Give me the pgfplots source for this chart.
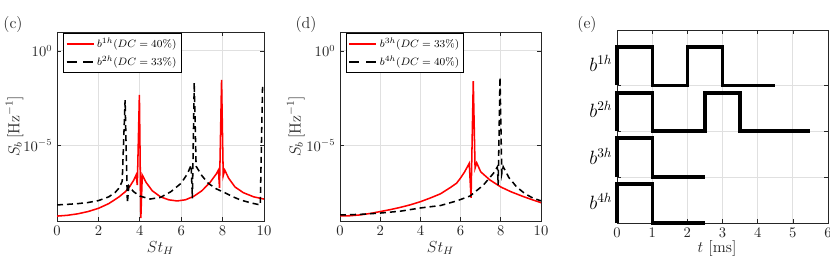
\documentclass[border=0pt]{standalone}
\usepackage{pgfplots}
\pgfplotsset{compat=1.18}
\newlength\px \setlength\px{0.75pt}
\tikzset{
  redline/.style={red, line width=1.15pt},
  blkline/.style={black, line width=1.15pt, dash pattern=on 4.5pt off 3pt},
}
\begin{document}
\begin{tikzpicture}
\useasboundingbox (0,0) rectangle (830\px,261\px);

% ---------------- (c)
\begin{axis}[scale only axis, anchor=south west,
  at={(57\px,40\px)}, width=207\px, height=189\px,
  axis line style={black!85, line width=0.6pt},
  tick style={black!85, line width=0.5pt},
  major tick length=4\px,
  ticklabel style={text=black!85, font=\fontsize{10.5}{12}\selectfont},
  xmajorgrids, ymajorgrids,
  grid style={black!12, line width=0.6pt},
  ymode=log, xmin=0, xmax=10, ymin=1e-9, ymax=10,
  xtick={0,2,4,6,8,10}, ytick={1e-5,1},
  xlabel={$St_H$}, ylabel={$S_b\,[\mathrm{Hz}^{-1}]$},
  xlabel style={at={(axis description cs:0.5,-0.143)}, anchor=center, font=\large, text=black!85},
  ylabel style={at={(axis description cs:-0.205,0.5)}, anchor=center, font=\large, text=black!85},
  legend style={at={(axis description cs:0.03,0.995)}, anchor=north west,
      draw=black, line width=0.8pt, font=\footnotesize, fill=white,
      inner sep=1.5pt, row sep=1pt},
  legend cell align=left]
\addplot[redline, legend image code/.code={\draw[red, line width=1.3pt] (0cm,0cm) -- (0.71cm,0cm);}] coordinates {
(0,1.82e-9) (0.5,2.0e-9) (1,2.4e-9) (1.5,3.16e-9) (2,4.68e-9) (2.5,8.3e-9)
(3,1.9e-8) (3.3,3.55e-8) (3.5,6.3e-8) (3.7,1.41e-7) (3.82,2.7e-7) (3.88,7.9e-8)
(3.98,4.7e-3) (4.05,1.41e-9) (4.12,2.7e-7) (4.3,1.12e-7) (4.6,4.0e-8)
(5.0,1.9e-8) (5.4,1.32e-8) (5.8,1.15e-8) (6.2,1.32e-8) (6.6,2.0e-8)
(7.0,4.0e-8) (7.4,1.12e-7) (7.7,3.16e-7) (7.8,5.0e-7) (7.85,5.6e-8)
(7.95,2.9e-2) (8.03,2.5e-7) (8.1,5.0e-7) (8.3,1.78e-7) (8.6,6.3e-8)
(9.0,3.16e-8) (9.5,1.9e-8) (10,1.45e-8)};
\addlegendentry{$b^{1h}(DC=40\%)$}
\addplot[blkline, legend image code/.code={\draw[black, line width=1.3pt, dash pattern=on 7.5pt off 5pt] (0cm,0cm) -- (0.71cm,0cm);}] coordinates {
(0,7.1e-9) (0.5,7.6e-9) (1,8.3e-9) (1.5,9.5e-9) (2,1.2e-8) (2.5,1.9e-8)
(2.8,3.16e-8) (3.0,5.6e-8) (3.15,1.26e-7) (3.29,2.5e-3) (3.4,8.9e-9)
(3.47,7.1e-8) (3.7,3.55e-8) (4.0,2.1e-8) (4.5,1.45e-8) (5.0,1.78e-8)
(5.5,3.55e-8) (6.0,1.0e-7) (6.3,3.16e-7) (6.48,9.1e-7) (6.54,1.58e-8)
(6.63,2.1e-2) (6.72,7.9e-7) (7.0,2.5e-7) (7.3,1.0e-7) (7.7,5.0e-8)
(8.1,3.16e-8) (8.5,1.9e-8) (8.9,1.26e-8) (9.4,8.9e-9) (9.82,7.1e-9)
(9.93,1.26e-2)};
\addlegendentry{$b^{2h}(DC=33\%)$}
\end{axis}

% ---------------- (d)
\begin{axis}[scale only axis, anchor=south west,
  at={(340\px,40\px)}, width=201\px, height=189\px,
  axis line style={black!85, line width=0.6pt},
  tick style={black!85, line width=0.5pt},
  major tick length=4\px,
  ticklabel style={text=black!85, font=\fontsize{10.5}{12}\selectfont},
  xmajorgrids, ymajorgrids,
  grid style={black!12, line width=0.6pt},
  ymode=log, xmin=0, xmax=10, ymin=1e-9, ymax=10,
  xtick={0,2,4,6,8,10}, ytick={1e-5,1},
  xlabel={$St_H$}, ylabel={$S_b\,[\mathrm{Hz}^{-1}]$},
  xlabel style={at={(axis description cs:0.5,-0.143)}, anchor=center, font=\large, text=black!85},
  ylabel style={at={(axis description cs:-0.22,0.5)}, anchor=center, font=\large, text=black!85},
  legend style={at={(axis description cs:0.03,0.995)}, anchor=north west,
      draw=black, line width=0.8pt, font=\footnotesize, fill=white,
      inner sep=1.5pt, row sep=1pt},
  legend cell align=left]
\addplot[redline, legend image code/.code={\draw[red, line width=1.3pt] (0cm,0cm) -- (0.71cm,0cm);}] coordinates {
(0,1.86e-9) (0.5,1.9e-9) (1,2.1e-9) (1.5,2.5e-9) (2,3.16e-9) (2.5,4.0e-9)
(3,5.25e-9) (3.5,7.2e-9) (4,1.05e-8) (4.5,1.66e-8) (5,2.75e-8) (5.5,6.0e-8)
(5.8,1.0e-7) (6.0,1.9e-7) (6.2,4.0e-7) (6.43,1.12e-6) (6.52,1.66e-8)
(6.63,2.5e-2) (6.72,6.3e-7) (6.8,1.2e-6) (7.0,4.0e-7) (7.46,1.48e-7)
(8.0,6.3e-8) (8.5,3.55e-8) (9.1,2.0e-8) (9.5,1.41e-8) (10,9.3e-9)};
\addlegendentry{$b^{3h}(DC=33\%)$}
\addplot[blkline, legend image code/.code={\draw[black, line width=1.3pt, dash pattern=on 7.5pt off 5pt] (0cm,0cm) -- (0.71cm,0cm);}] coordinates {
(0,2.1e-9) (1,2.24e-9) (2,2.63e-9) (3,3.3e-9) (4,4.9e-9) (5,6.6e-9)
(5.8,1.15e-8) (6.47,2.1e-8) (7.13,7.9e-8) (7.63,3.3e-7) (7.83,7.4e-7)
(7.87,7.9e-8) (7.96,4.0e-2) (8.05,3.16e-7) (8.12,7.4e-7) (8.4,2.0e-7)
(8.79,6.3e-8) (9.2,2.8e-8) (9.62,1.58e-8) (10,1.17e-8)};
\addlegendentry{$b^{4h}(DC=40\%)$}
\end{axis}

% ---------------- (e)
\begin{axis}[scale only axis, anchor=south west,
  at={(617\px,38\px)}, width=211\px, height=193\px,
  axis line style={black!85, line width=0.6pt},
  tick style={black!85, line width=0.5pt},
  major tick length=4\px,
  ticklabel style={text=black!85, font=\fontsize{10.5}{12}\selectfont},
  xmajorgrids, ymajorgrids,
  grid style={black!12, line width=0.6pt},
  xmin=0, xmax=6, ymin=0, ymax=4.2, clip=false,
  xtick={0,1,2,3,4,5,6}, ytick={1,2,3}, yticklabels={,,},
  extra y ticks={0.47,1.46,2.47,3.47},
  extra y tick labels={$b^{4h}$,$b^{3h}$,$b^{2h}$,$b^{1h}$},
  extra y tick style={ymajorgrids=false, major tick length=0pt,
    yticklabel style={font=\Large, text=black}},
  xlabel={$t$ [ms]},
  xlabel style={at={(axis description cs:0.474,-0.13)}, anchor=center, font=\large, text=black!85}]
\addplot[black, line width=2.4pt, line join=miter] coordinates {
(0,3) (0,3.83) (1,3.83) (1,3) (2,3) (2,3.83) (3,3.83) (3,3) (4.5,3)};
\addplot[black, line width=2.4pt, line join=miter] coordinates {
(0,2) (0,2.83) (1,2.83) (1,2) (2.5,2) (2.5,2.83) (3.5,2.83) (3.5,2) (5.5,2)};
\addplot[black, line width=2.4pt, line join=miter] coordinates {
(0,1) (0,1.85) (1,1.85) (1,1) (2.5,1)};
\addplot[black, line width=2.4pt, line join=miter] coordinates {
(0,0) (0,0.85) (1,0.85) (1,0) (2.5,0)};
\end{axis}

\node[text=black!85, font=\large] at (13\px,236\px) {(c)};
\node[text=black!85, font=\large] at (306\px,236\px) {(d)};
\node[text=black!85, font=\large] at (587\px,236\px) {(e)};
\end{tikzpicture}
\end{document}
